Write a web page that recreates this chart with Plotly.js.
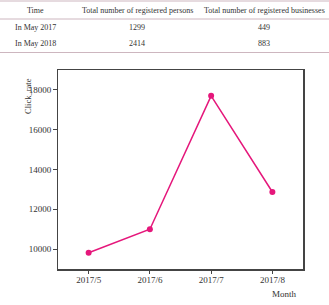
<!DOCTYPE html>
<html>
<head>
<meta charset="utf-8">
<script src="https://cdn.plot.ly/plotly-3.0.1.min.js"></script>
<style>
  html, body { margin: 0; padding: 0; background: #fff; }
  #chart { width: 329px; height: 305px; }
</style>
</head>
<body>
<div id="chart"></div>
<script>
// Monthly click rate
const months = ['2017/5', '2017/6', '2017/7', '2017/8'];
const clickRate = [9820, 11000, 17700, 12870];

// Registration summary table
const tableHeader = ['Time', 'Total number of registered persons', 'Total number of registered businesses'];
const tableTime = ['In May 2017', 'In May 2018'];
const tablePersons = [1299, 2414];
const tableBusinesses = [449, 883];

const W = 329, H = 305;
const M = { l: 58, r: 26, t: 70, b: 36 };
const plotW = W - M.l - M.r, plotH = H - M.t - M.b;
// pixel -> paper coordinates
const px = x => (x - M.l) / plotW;
const py = y => (H - M.b - y) / plotH;

const serif = 'Liberation Serif, Times New Roman, serif';
const textColor = '#333';

const colX = [35, 137, 264];
const rowY = [10, 28, 43.5];
const annotations = [];
const rows = [tableHeader,
  [tableTime[0], tablePersons[0], tableBusinesses[0]],
  [tableTime[1], tablePersons[1], tableBusinesses[1]]];
rows.forEach((row, r) => {
  row.forEach((cell, c) => {
    annotations.push({
      text: String(cell), xref: 'paper', yref: 'paper',
      x: px(colX[c]), y: py(rowY[r]), xanchor: 'center', yanchor: 'middle',
      showarrow: false, font: { family: serif, size: 8, color: textColor }
    });
  });
});

// axis titles
annotations.push({
  text: 'Click_rate', xref: 'paper', yref: 'paper',
  x: px(28), y: py(96), xanchor: 'center', yanchor: 'middle', textangle: -90,
  showarrow: false, font: { family: serif, size: 8.5, color: textColor }
});
annotations.push({
  text: 'Month', xref: 'paper', yref: 'paper',
  x: px(284), y: py(294), xanchor: 'center', yanchor: 'middle',
  showarrow: false, font: { family: serif, size: 9, color: textColor }
});

const ruleColor = '#cdb6bf';
const shapes = [1, 19, 52.5].map(y => ({
  type: 'line', xref: 'paper', yref: 'paper',
  x0: px(0), x1: px(W), y0: py(y), y1: py(y),
  line: { color: ruleColor, width: 1 }
}));

const trace = {
  x: months, y: clickRate, type: 'scatter', mode: 'lines+markers',
  line: { color: '#e5177b', width: 1.5 },
  marker: { color: '#e5177b', size: 6 },
  cliponaxis: false, hoverinfo: 'skip'
};

const axisCommon = {
  showline: true, mirror: true, linecolor: '#444', linewidth: 1.5,
  ticks: 'outside', ticklen: 3.5, tickwidth: 1, tickcolor: '#444',
  showgrid: false, zeroline: false,
  tickfont: { family: serif, size: 9, color: textColor }
};

const layout = {
  width: W, height: H,
  margin: M,
  paper_bgcolor: '#fff', plot_bgcolor: '#fff',
  showlegend: false,
  xaxis: Object.assign({}, axisCommon, {
    type: 'category', range: [-0.5, 3.5], ticklabelstandoff: -2
  }),
  yaxis: Object.assign({}, axisCommon, {
    range: [9000, 19000], tickvals: [10000, 12000, 14000, 16000, 18000],
    ticktext: ['10000', '12000', '14000', '16000', '18000']
  }),
  annotations: annotations,
  shapes: shapes
};

Plotly.newPlot('chart', [trace], layout, { displayModeBar: false, staticPlot: true });
</script>
</body>
</html>
